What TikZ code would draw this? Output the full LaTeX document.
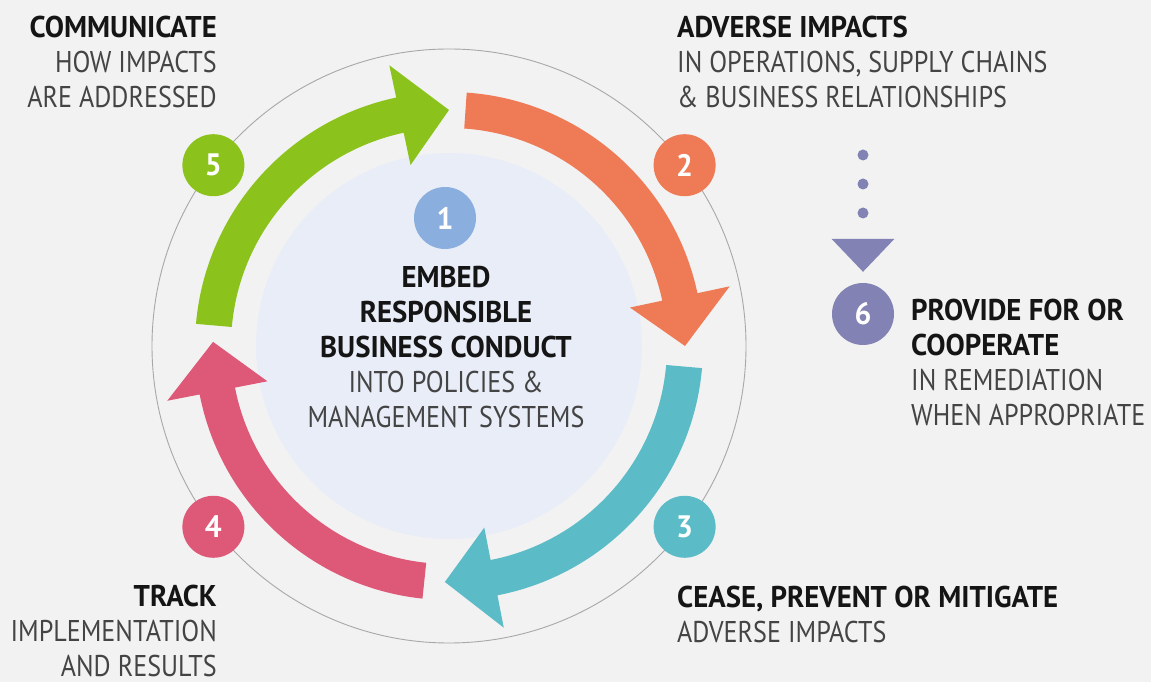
\documentclass[tikz,border=0pt]{standalone}
\usepackage{fontspec}
\setmainfont{PT Sans}[FakeStretch=0.87, BoldFeatures={FakeStretch=0.96}]
\usetikzlibrary{arrows.meta}
\definecolor{bgc}{HTML}{F2F2F2}
\definecolor{innerc}{HTML}{E8EDF7}
\definecolor{ringc}{HTML}{A8A8A8}
\definecolor{cgreen}{HTML}{8CC21C}
\definecolor{corange}{HTML}{EE7B55}
\definecolor{cteal}{HTML}{5BBCC7}
\definecolor{cpink}{HTML}{DE5878}
\definecolor{cblue}{HTML}{8AAEDD}
\definecolor{cpurple}{HTML}{8282B4}
\definecolor{tdark}{HTML}{151515}
\definecolor{tlight}{HTML}{444444}
\newcommand\cycarrow[3]{%
  \pgfmathsetmacro\cycbase{#2+12}%
  \fill[#3] ([shift={(#1:254)}]c) arc[start angle=#1, end angle=\cycbase, radius=254]
    -- ([shift={(\cycbase:287)}]c) -- ([shift={(#2:236)}]c)
    -- ([shift={(\cycbase:185)}]c) -- ([shift={(\cycbase:218)}]c)
    arc[start angle=\cycbase, end angle=#1, radius=218] -- cycle;}
\begin{document}
\begin{tikzpicture}[x=1pt,y=1pt,
  badge/.style={circle, minimum size=62pt, inner sep=0pt, text=white,
    font=\fontsize{31}{34}\selectfont\bfseries},
  lbl/.style={inner sep=0pt, font=\fontsize{30}{35}\selectfont, text=tlight},
]
\fill[bgc] (0,0) rectangle (1151,682);
\useasboundingbox (0,0) rectangle (1151,682);
\coordinate (c) at (449,336);
\draw[ringc, line width=0.9pt] (c) circle[radius=297];
\fill[innerc] (c) circle[radius=193];

\cycarrow{175}{90}{cgreen}
\cycarrow{86}{0}{corange}
\cycarrow{-5}{-91}{cteal}
\cycarrow{-96}{-181}{cpink}

\node[badge, fill=cgreen] (b5) at ([shift={(142.5:297)}]c) {5};
\node[badge, fill=corange] (b2) at ([shift={(37.5:297)}]c) {2};
\node[badge, fill=cteal] (b3) at ([shift={(-37.5:297)}]c) {3};
\node[badge, fill=cpink] (b4) at ([shift={(-142.5:297)}]c) {4};
\node[badge, fill=cblue] (b1) at (445,464) {1};
\node[badge, fill=cpurple] (b6) at (863,368) {6};

\coordinate (d0) at (863,527);
\draw[cpurple, line width=11pt, line cap=round, dash pattern=on 0pt off 29pt,
  -{Triangle[width=63pt,length=33pt,line width=0pt]}, shorten >=11pt] (d0) -- (b6);

\node[lbl, anchor=base, align=center] (tc) at (446,254)
  {{\color{tdark}\bfseries EMBED}\\{\color{tdark}\bfseries RESPONSIBLE}\\{\color{tdark}\bfseries BUSINESS CONDUCT}\\INTO POLICIES \&\\MANAGEMENT SYSTEMS};
\node[lbl, anchor=base east, align=right] (t5) at (217,574)
  {{\color{tdark}\bfseries COMMUNICATE}\\HOW IMPACTS\\ARE ADDRESSED};
\node[lbl, anchor=base west, align=left] (t2) at (677,574)
  {{\color{tdark}\bfseries ADVERSE IMPACTS}\\IN OPERATIONS, SUPPLY CHAINS\\\& BUSINESS RELATIONSHIPS};
\node[lbl, anchor=base east, align=right] (t4) at (217,5)
  {{\color{tdark}\bfseries TRACK}\\IMPLEMENTATION\\AND RESULTS};
\node[lbl, anchor=base west, align=left] (t3) at (677,39)
  {{\color{tdark}\bfseries CEASE, PREVENT OR MITIGATE}\\ADVERSE IMPACTS};
\node[lbl, anchor=base west, align=left] (t6) at (911,256)
  {{\color{tdark}\bfseries PROVIDE FOR OR}\\{\color{tdark}\bfseries COOPERATE}\\IN REMEDIATION\\WHEN APPROPRIATE};
\end{tikzpicture}
\end{document}
